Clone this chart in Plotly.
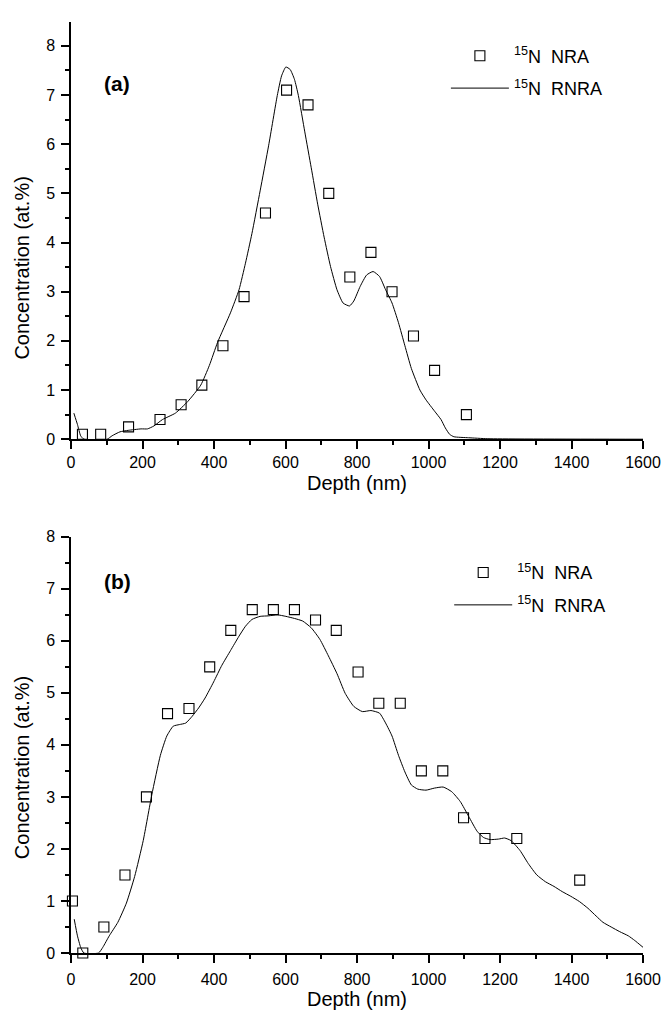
import plotly.graph_objects as go

# ---------------- data ----------------
# panel (a)
nra_a_x = [32, 83, 161, 249, 308, 366, 425, 484, 544, 603, 663, 721, 780, 839, 898, 958, 1017, 1106]
nra_a_y = [0.1, 0.1, 0.25, 0.4, 0.7, 1.1, 1.9, 2.9, 4.6, 7.1, 6.8, 5.0, 3.3, 3.8, 3.0, 2.1, 1.4, 0.5]

rnra_a_x = [8, 18, 27, 36, 101, 115, 137, 160, 196, 214, 232, 256, 292, 327, 363, 387, 410,
            446, 470, 488, 506, 529, 553, 577, 589, 601, 613, 625, 636, 654, 672, 690, 708,
            726, 744, 761, 779, 791, 809, 827, 845, 863, 880, 898, 916, 934, 952, 976, 993,
            1017, 1035, 1047, 1059, 1071, 1112, 1166, 1600]
rnra_a_y = [0.53, 0.30, 0.07, 0.0, 0.0, 0.07, 0.15, 0.18, 0.21, 0.21, 0.27, 0.40, 0.53, 0.77,
            1.10, 1.50, 1.97, 2.57, 3.04, 3.58, 4.18, 5.05, 5.98, 6.99, 7.39, 7.57, 7.52, 7.32,
            6.99, 6.25, 5.52, 4.78, 4.11, 3.51, 3.04, 2.77, 2.71, 2.81, 3.11, 3.34, 3.41, 3.31,
            3.04, 2.77, 2.37, 1.90, 1.44, 1.00, 0.80, 0.57, 0.40, 0.23, 0.10, 0.05, 0.03, 0.01, 0.0]

# panel (b)
nra_b_x = [4, 33, 92, 151, 211, 270, 330, 388, 447, 507, 566, 625, 684, 742, 803, 861, 921,
           980, 1040, 1098, 1158, 1247, 1423]
nra_b_y = [1.0, 0.0, 0.5, 1.5, 3.0, 4.6, 4.7, 5.5, 6.2, 6.6, 6.6, 6.6, 6.4, 6.2, 5.4, 4.8, 4.8,
           3.5, 3.5, 2.6, 2.2, 2.2, 1.4]

rnra_b_x = [9, 18, 27, 36, 77, 89, 107, 131, 155, 178, 202, 226, 250, 268, 286, 303, 321, 339,
            357, 375, 399, 422, 446, 470, 488, 506, 529, 553, 577, 601, 625, 648, 672, 696,
            720, 744, 767, 791, 815, 839, 863, 880, 898, 916, 934, 952, 970, 993, 1017, 1041,
            1065, 1089, 1112, 1136, 1154, 1172, 1196, 1213, 1231, 1256, 1279, 1303, 1327,
            1351, 1374, 1398, 1422, 1446, 1469, 1488, 1511, 1535, 1559, 1577, 1600]
rnra_b_y = [0.65, 0.33, 0.11, 0.0, 0.0, 0.11, 0.33, 0.59, 0.96, 1.47, 2.16, 3.04, 3.80, 4.17,
            4.36, 4.39, 4.42, 4.55, 4.71, 4.90, 5.21, 5.53, 5.81, 6.09, 6.28, 6.41, 6.47, 6.48,
            6.50, 6.47, 6.43, 6.38, 6.25, 6.03, 5.71, 5.37, 4.99, 4.74, 4.64, 4.66, 4.61, 4.42,
            4.17, 3.80, 3.48, 3.23, 3.15, 3.13, 3.17, 3.19, 3.10, 2.91, 2.63, 2.34, 2.22, 2.18,
            2.19, 2.21, 2.16, 1.97, 1.72, 1.50, 1.37, 1.28, 1.18, 1.09, 0.99, 0.86, 0.71, 0.59,
            0.50, 0.41, 0.33, 0.24, 0.11]

x_range = [0, 1600]
y_range_a = [0, 8.476]
y_range_b = [0, 8]
panel_labels = ["(a)", "(b)"]
name_nra = "<sup>15</sup>N\u00a0 NRA"
name_rnra = "<sup>15</sup>N\u00a0 RNRA"
x_title = "Depth (nm)"
y_title = "Concentration (at.%)"

# ---------------- layout geometry (pixels) ----------------
W, H = 666, 1022
L, R = 71, 642.7
top_a, bot_a = 14.7, 438.5
top_b, bot_b = 537.7, 961.0
FONT = "Arial, Liberation Sans, sans-serif"


def px_x(p):
    return (p - L) / (R - L)


def px_y(p):
    return 1 - p / H


fig = go.Figure()

marker_style = dict(symbol="square-open", size=10, color="black", line=dict(width=1.1, color="black"))
line_style = dict(color="black", width=1, shape="spline", smoothing=0.5)

fig.add_trace(go.Scatter(x=rnra_a_x, y=rnra_a_y, mode="lines", line=line_style, name=name_rnra,
                         xaxis="x", yaxis="y", legend="legend", legendrank=2, legendgroup="a2"))
fig.add_trace(go.Scatter(x=nra_a_x, y=nra_a_y, mode="markers", marker=marker_style, name=name_nra,
                         xaxis="x", yaxis="y", cliponaxis=False, legend="legend", legendrank=1,
                         legendgroup="a1"))
fig.add_trace(go.Scatter(x=rnra_b_x, y=rnra_b_y, mode="lines", line=line_style, name=name_rnra,
                         xaxis="x2", yaxis="y2", legend="legend2", legendrank=2, legendgroup="b2"))
fig.add_trace(go.Scatter(x=nra_b_x, y=nra_b_y, mode="markers", marker=marker_style, name=name_nra,
                         xaxis="x2", yaxis="y2", cliponaxis=False, legend="legend2", legendrank=1,
                         legendgroup="b1"))

tickfont = dict(family=FONT, size=16, color="black")
common_x = dict(range=x_range, dtick=200, tick0=0, showgrid=False, zeroline=False, showline=True,
                linecolor="black", linewidth=1.5, ticks="outside", ticklen=8, tickwidth=1.5,
                tickcolor="black", tickfont=tickfont,
                minor=dict(dtick=100, ticks="outside", ticklen=4, tickwidth=1.5, tickcolor="black",
                           showgrid=False))
common_y = dict(dtick=1, tick0=0, showgrid=False, zeroline=False, showline=True,
                linecolor="black", linewidth=1.5, ticks="outside", ticklen=8, tickwidth=1.5,
                tickcolor="black", tickfont=tickfont, ticklabelstandoff=3,
                minor=dict(dtick=0.5, ticks="outside", ticklen=4, tickwidth=1.5, tickcolor="black",
                           showgrid=False))
mirror_x = dict(range=x_range, dtick=200, tick0=0, showgrid=False, zeroline=False, showline=True,
                linecolor="black", linewidth=1.5, ticks="inside", ticklen=6, tickwidth=1.5,
                tickcolor="black", showticklabels=False, side="top",
                minor=dict(dtick=100, ticks="inside", ticklen=4, tickwidth=1.5, tickcolor="black",
                           showgrid=False))
mirror_y = dict(dtick=1, tick0=0, showgrid=False, zeroline=False, showline=True,
                linecolor="black", linewidth=1.5, ticks="inside", ticklen=6, tickwidth=1.5,
                tickcolor="black", showticklabels=False, side="right",
                minor=dict(dtick=0.5, ticks="inside", ticklen=4, tickwidth=1.5, tickcolor="black",
                           showgrid=False))

legend_common = dict(font=dict(family=FONT, size=18, color="black"), bgcolor="rgba(0,0,0,0)",
                     borderwidth=0, itemwidth=58, traceorder="grouped", tracegroupgap=6,
                     xanchor="left", yanchor="top")

title_font = dict(family=FONT, size=20, color="black")
label_font = dict(family=FONT, size=21, color="black")
annotations = [
    dict(text="<b>" + panel_labels[0] + "</b>", x=px_x(101.5), y=px_y(77), xref="paper", yref="paper",
         xanchor="left", yanchor="middle", showarrow=False, font=label_font),
    dict(text="<b>" + panel_labels[1] + "</b>", x=px_x(101.5), y=px_y(583), xref="paper", yref="paper",
         xanchor="left", yanchor="middle", showarrow=False, font=label_font),
    dict(text=x_title, x=px_x(357), y=px_y(483), xref="paper", yref="paper", xanchor="center",
         yanchor="middle", showarrow=False, font=title_font),
    dict(text=x_title, x=px_x(357), y=px_y(1008), xref="paper", yref="paper", xanchor="center",
         yanchor="middle", showarrow=False, font=title_font),
    dict(text=y_title, x=px_x(22), y=px_y(264), xref="paper", yref="paper", xanchor="center",
         yanchor="middle", textangle=-90, showarrow=False, font=title_font),
    dict(text=y_title, x=px_x(22), y=px_y(772), xref="paper", yref="paper", xanchor="center",
         yanchor="middle", textangle=-90, showarrow=False, font=title_font),
]

fig.update_layout(
    width=W, height=H,
    margin=dict(l=L, r=W - R, t=0, b=0),
    paper_bgcolor="white", plot_bgcolor="white",
    font=dict(family=FONT, color="black"),
    xaxis=dict(common_x, domain=[0, 1], anchor="y"),
    yaxis=dict(common_y, range=y_range_a, domain=[px_y(bot_a), px_y(top_a)], anchor="x"),
    xaxis2=dict(common_x, domain=[0, 1], anchor="y2", ticklabelstandoff=3),
    yaxis2=dict(common_y, range=y_range_b, domain=[px_y(bot_b), px_y(top_b)], anchor="x2"),
    xaxis3=dict(mirror_x, overlaying="x", anchor="y"),
    yaxis3=dict(mirror_y, range=y_range_a, overlaying="y", anchor="x"),
    xaxis4=dict(mirror_x, overlaying="x2", anchor="y2"),
    yaxis4=dict(mirror_y, range=y_range_b, overlaying="y2", anchor="x2"),
    legend=dict(legend_common, x=px_x(445.7), y=px_y(30)),
    legend2=dict(legend_common, x=px_x(449), y=px_y(555.5)),
    annotations=annotations,
    showlegend=True,
)

fig.write_html("out.html", config={"displayModeBar": False},
               post_script="document.body.style.margin='0';document.body.style.overflow='hidden';")
